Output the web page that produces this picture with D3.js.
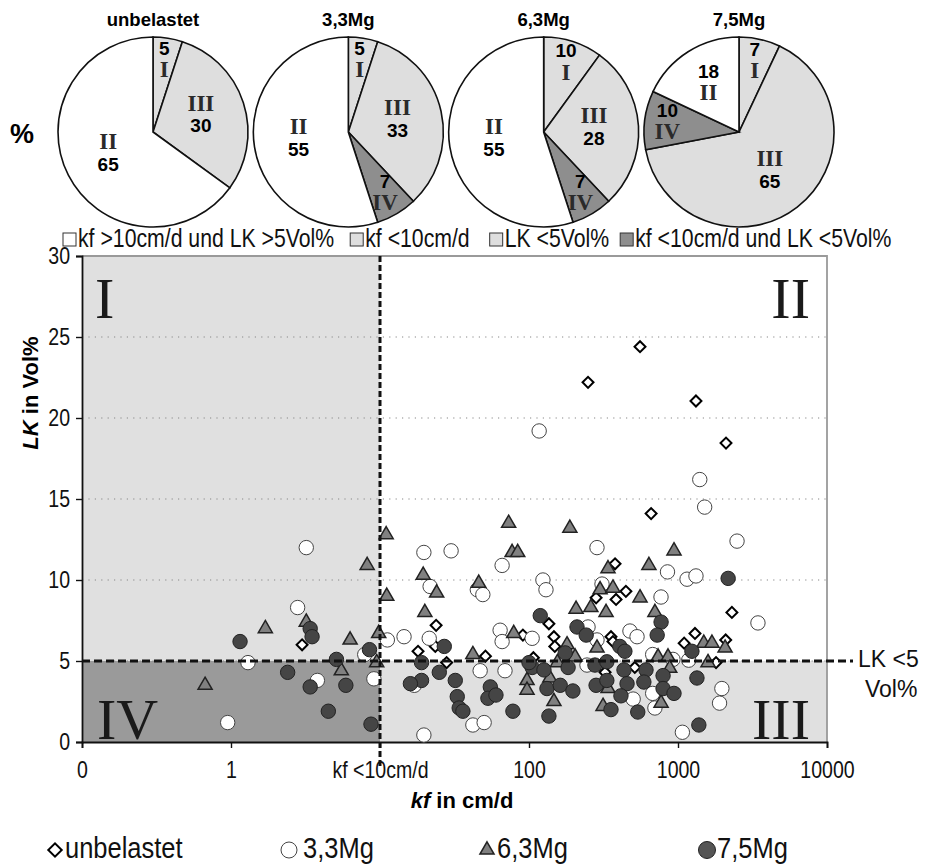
<!DOCTYPE html>
<html><head><meta charset="utf-8">
<script src="https://cdn.jsdelivr.net/npm/d3@7"></script>
<style>body{margin:0;background:#fff} svg{display:block}</style>
</head><body><svg id="c" width="928" height="867"></svg>
<script>
// ---------- DATA ----------
const pieNames = ["unbelastet", "3,3Mg", "6,3Mg", "7,5Mg"];
const pieZones = [["I","III","II"], ["I","III","IV","II"], ["I","III","IV","II"], ["I","III","IV","II"]];
const pieValues = [[5,30,65], [5,33,7,55], [10,28,7,55], [7,65,10,18]];
const zoneLegendLabels = ["kf >10cm/d und LK >5Vol%", "kf <10cm/d", "LK <5Vol%", "kf <10cm/d und LK <5Vol%"];
const zoneLegendKeys = ["II", "I", "III", "IV"];

const seriesNames = ["unbelastet", "3,3Mg", "6,3Mg", "7,5Mg"];
// [kf in cm/d, LK in Vol%]
const unbelastet = [[3.0,6.0],[23.8,7.2],[23.5,5.9],[18,5.6],[91,6.6],[51,5.3],[28,4.9],[660,14.1],[378,11.0],[447,9.3],[282,8.9],[384,8.8],[136,7.3],[147,6.5],[355,6.5],[149,5.9],[366,6.2],[1100,6.1],[513,4.6],[324,4.3],[1320,21.05],[2100,18.45],[2300,8.0],[1300,6.7],[2090,6.3],[1800,4.9],[556,24.4],[249,22.2],[107,5.2]];
const mg33 = [[3.2,12.0],[2.8,8.3],[11.2,6.3],[7.9,5.4],[1.3,4.9],[3.8,3.8],[9.1,3.9],[0.95,1.2],[19.7,11.7],[30,11.8],[66,10.9],[21.7,9.6],[45,9.4],[49,9.1],[14.5,6.5],[21.4,6.4],[64,6.9],[66,6.2],[105,6.4],[47,4.4],[69,4.4],[17,3.5],[42,1.05],[50,1.2],[19.7,0.43],[286,12.0],[850,10.5],[124,10.0],[130,9.4],[309,9.75],[769,8.95],[249,7.1],[476,6.85],[531,6.5],[286,6.3],[676,5.4],[925,5.1],[245,4.75],[500,2.65],[676,3.0],[700,2.1],[1070,0.6],[1400,16.2],[1510,14.5],[2490,12.4],[1150,10.05],[1320,10.25],[3440,7.35],[1180,5.05],[1970,3.3],[1900,2.4],[117,19.2]];
const mg63 = [[8.2,10.9],[11,12.8],[11.1,9.0],[3.2,7.4],[1.7,7.0],[6.3,6.3],[9.8,6.7],[9.5,4.9],[5.5,4.4],[0.67,3.5],[73,13.5],[77,11.7],[84,11.7],[19.5,10.3],[24,9.2],[46,9.8],[20,8.0],[79,6.7],[42,5.4],[97,3.8],[97,3.2],[188,13.2],[940,11.8],[339,10.7],[638,10.9],[300,9.4],[366,9.5],[556,8.9],[207,8.2],[260,8.3],[329,8.0],[700,8.0],[180,6.0],[286,5.8],[204,5.25],[735,5.25],[857,5.25],[138,3.95],[339,3.3],[147,2.5],[314,2.2],[770,2.4],[1490,6.1],[1690,6.1],[2070,5.8],[1590,4.9],[155,4.9],[880,4.55]];
const mg75 = [[3.4,7.0],[3.5,6.5],[1.15,6.2],[8.5,5.7],[5.1,5.1],[2.4,4.3],[3.4,3.4],[5.9,3.5],[4.5,1.9],[8.7,1.1],[27,5.9],[19,4.9],[25,4.3],[19,3.8],[16,3.6],[32,3.8],[33,2.8],[34,2.1],[36,1.9],[55,3.4],[53,2.7],[60,2.9],[78,1.9],[105,4.6],[100,4.9],[119,7.8],[770,7.4],[210,7.1],[242,6.6],[725,6.6],[407,5.9],[440,5.6],[175,5.5],[126,4.45],[183,4.6],[277,4.75],[333,4.95],[434,4.45],[610,4.45],[794,4.1],[132,3.3],[162,3.5],[197,3.15],[282,3.5],[333,3.8],[455,3.6],[590,3.7],[794,3.3],[940,3.0],[414,2.85],[355,2.0],[537,1.85],[136,1.6],[2170,10.1],[1240,5.6],[1340,3.95],[1380,1.05]];

const xTickValues = [0.1, 1, 10, 100, 1000, 10000];
const xTickLabels = ["0", "1", "kf <10cm/d", "100", "1000", "10000"];
const yTickValues = [0, 5, 10, 15, 20, 25, 30];
const kfLimit = 10, lkLimit = 5;

// ---------- STYLE ----------
const SANS = "'Liberation Sans',Arial,sans-serif";
const SERIF = "'Liberation Serif','Times New Roman',serif";
const NS = 0.85; // horizontal squeeze to mimic a narrow face
const zoneFill = {I:"#dedede", II:"#ffffff", III:"#dedede", IV:"#8e8e8e"};
const plotZoneFill = {I:"#e0e0e0", II:"#ffffff", III:"#e0e0e0", IV:"#9a9a9a"};

const svg = d3.select("#c");

function narrowText(parent, x, y, size, str, anchor) {
  return parent.append("text").attr("transform", `translate(${x},${y}) scale(${NS},1)`)
    .attr("text-anchor", anchor || "start").attr("dominant-baseline", "middle")
    .attr("font-family", SANS).attr("font-size", size).attr("fill", "#111").text(str);
}

// ---------- PIES ----------
const pieX = d3.scalePoint().domain(pieNames).range([153, 739]);
const pieY = 132, R = 95;
const pie = d3.pie().sort(null).value(d => d.v);
const arc = d3.arc().innerRadius(0).outerRadius(R);

svg.append("text").attr("x", 22).attr("y", 136).attr("text-anchor","middle")
  .attr("dominant-baseline","middle").attr("font-family", SANS).attr("font-weight","bold")
  .attr("font-size", 27).text("%");

pieNames.forEach((name, pi) => {
  const g = svg.append("g").attr("transform", `translate(${pieX(name)},${pieY})`);
  svg.append("text").attr("x", pieX(name)).attr("y", 21).attr("text-anchor","middle")
    .attr("dominant-baseline","middle").attr("font-family", SANS).attr("font-weight","bold")
    .attr("font-size", 18.5).text(name);
  const data = pieValues[pi].map((v, i) => ({v, z: pieZones[pi][i]}));
  const arcs = pie(data);
  g.selectAll("path").data(arcs).join("path").attr("d", arc)
    .attr("fill", d => zoneFill[d.data.z]).attr("stroke", "#111").attr("stroke-width", 1.6);
  arcs.forEach(d => {
    const a = (d.startAngle + d.endAngle) / 2;
    const small = d.data.v < 12;
    const f = small ? 0.76 : (d.data.v < 25 ? 0.6 : 0.53);
    const cx = Math.sin(a) * R * f, cy = -Math.cos(a) * R * f;
    const numFirst = small || a > 1.5 * Math.PI;
    const lines = numFirst ? ["n","z"] : ["z","n"];
    lines.forEach((t, li) => {
      const yy = cy + (li === 0 ? -11 : 11);
      const txt = g.append("text").attr("x", cx).attr("y", yy).attr("text-anchor","middle")
        .attr("dominant-baseline","middle").attr("font-weight","bold");
      if (t === "n") txt.attr("font-family", SANS).attr("font-size", 19).attr("fill","#000").text(d.data.v);
      else txt.attr("font-family", SERIF).attr("font-size", 23).attr("fill","#2a2a2a").text(d.data.z);
    });
  });
});

// zone legend row
{
  let lx = 63;
  const ly = 240;
  const gaps = [16, 20, 11];
  zoneLegendLabels.forEach((lab, i) => {
    svg.append("rect").attr("x", lx).attr("y", ly - 7).attr("width", 13).attr("height", 13)
      .attr("fill", zoneFill[zoneLegendKeys[i]]).attr("stroke", "#333").attr("stroke-width", 1);
    const t = narrowText(svg, lx + 15, ly, 25, lab);
    lx += 15 + t.node().getComputedTextLength() * NS + (gaps[i] || 0);
  });
}

// ---------- SCATTER ----------
const x = d3.scaleLog().domain([0.1, 10000]).range([82, 827]);
const y = d3.scaleLinear().domain([0, 30]).range([742, 256]);
const [x0, x1] = x.range(), [y0, y1] = y.range();

const zones = [
  {z:"I", xa:0.1, xb:kfLimit, ya:lkLimit, yb:30},
  {z:"II", xa:kfLimit, xb:10000, ya:lkLimit, yb:30},
  {z:"III", xa:kfLimit, xb:10000, ya:0, yb:lkLimit},
  {z:"IV", xa:0.1, xb:kfLimit, ya:0, yb:lkLimit}
];
svg.append("g").selectAll("rect").data(zones).join("rect")
  .attr("x", d => x(d.xa)).attr("y", d => y(d.yb))
  .attr("width", d => x(d.xb) - x(d.xa)).attr("height", d => y(d.ya) - y(d.yb))
  .attr("fill", d => plotZoneFill[d.z]);

svg.append("g").selectAll("line").data(yTickValues.filter(v => v > 0 && v < 30)).join("line")
  .attr("x1", x0).attr("x2", x1).attr("y1", d => y(d)).attr("y2", d => y(d))
  .attr("stroke", "#888").attr("stroke-width", 1.2).attr("stroke-dasharray", "1.2,5.2");

svg.append("path").attr("d", `M${x0},${y1}H${x1}V${y0}`).attr("fill","none")
  .attr("stroke","#9a9a9a").attr("stroke-width",1.8);

const romanStyle = s => s.attr("font-family", SERIF).attr("font-size", 58).attr("fill", "#1a1a1a");
romanStyle(svg.append("text").attr("x", x0 + 13).attr("y", y1 + 62).text("I"));
romanStyle(svg.append("text").attr("x", x1 - 17).attr("y", y1 + 62).attr("text-anchor","end").text("II"));
romanStyle(svg.append("text").attr("x", x1 - 17).attr("y", y0 - 3).attr("text-anchor","end").text("III"));
romanStyle(svg.append("text").attr("x", x0 + 15).attr("y", y0 - 3).text("IV"));

const yAxis = svg.append("g").attr("transform", `translate(${x0},0)`)
  .call(d3.axisLeft(y).tickValues(yTickValues).tickSize(6).tickFormat(d3.format("d")));
yAxis.select(".domain").attr("stroke","#111").attr("stroke-width",1.8);
yAxis.selectAll(".tick line").attr("stroke","#111").attr("stroke-width",1.4);
yAxis.selectAll("text").attr("font-family", SANS).attr("font-size", 23).attr("fill","#111")
  .attr("x", -12 / NS).attr("transform", `scale(${NS},1)`);

const xAxis = svg.append("g").attr("transform", `translate(0,${y0})`)
  .call(d3.axisBottom(x).tickValues(xTickValues).tickSize(6).tickFormat((d, i) => xTickLabels[i]));
xAxis.select(".domain").attr("stroke","#111").attr("stroke-width",1.8);
xAxis.selectAll(".tick line").attr("stroke","#111").attr("stroke-width",1.4);
xAxis.selectAll("text").attr("font-family", SANS).attr("font-size", 23).attr("fill","#111")
  .attr("y", 20).attr("transform", `scale(${NS},1)`);

// markers
const diamond = d3.symbol().type(d3.symbolSquare).size(60);
const tri = d3.symbol().type(d3.symbolTriangle).size(86);
const gm = svg.append("g");
gm.append("g").selectAll("path").data(unbelastet).join("path")
  .attr("d", diamond)
  .attr("transform", d => `translate(${x(d[0])},${y(d[1])}) rotate(45)`)
  .attr("fill", "#fff").attr("stroke", "#000").attr("stroke-width", 2);
gm.append("g").selectAll("circle").data(mg33).join("circle")
  .attr("cx", d => x(d[0])).attr("cy", d => y(d[1])).attr("r", 7.2)
  .attr("fill", "#fff").attr("stroke", "#444").attr("stroke-width", 1);
gm.append("g").selectAll("path").data(mg63).join("path")
  .attr("d", tri).attr("transform", d => `translate(${x(d[0])},${y(d[1])})`)
  .attr("fill", "#808080").attr("stroke", "#222").attr("stroke-width", 1.5);
gm.append("g").selectAll("circle").data(mg75).join("circle")
  .attr("cx", d => x(d[0])).attr("cy", d => y(d[1])).attr("r", 7.2)
  .attr("fill", "#454545").attr("stroke", "#222").attr("stroke-width", 1);

// threshold dashed lines
svg.append("line").attr("x1", x(kfLimit)).attr("x2", x(kfLimit)).attr("y1", y1).attr("y2", y0 + 26)
  .attr("stroke","#111").attr("stroke-width",3).attr("stroke-dasharray","6,3");
svg.append("line").attr("x1", x0).attr("x2", x1 + 26).attr("y1", y(lkLimit)).attr("y2", y(lkLimit))
  .attr("stroke","#111").attr("stroke-width",3).attr("stroke-dasharray","8,4");
svg.append("text").attr("x", x1 + 31).attr("y", y(lkLimit)).attr("dominant-baseline","middle")
  .attr("font-family", SANS).attr("font-size", 23).attr("fill","#111").text("LK <5");
svg.append("text").attr("x", x1 + 38).attr("y", y(lkLimit) + 30).attr("dominant-baseline","middle")
  .attr("font-family", SANS).attr("font-size", 23).attr("fill","#111").text("Vol%");

// axis titles
const yt = svg.append("text").attr("transform", `translate(32,393) rotate(-90)`)
  .attr("text-anchor","middle").attr("dominant-baseline","middle")
  .attr("font-family", SANS).attr("font-weight","bold").attr("font-size", 22);
yt.append("tspan").attr("font-style","italic").text("LK");
yt.append("tspan").text(" in Vol%");
const xt = svg.append("text").attr("x", 462).attr("y", 802)
  .attr("text-anchor","middle").attr("dominant-baseline","middle")
  .attr("font-family", SANS).attr("font-weight","bold").attr("font-size", 22);
xt.append("tspan").attr("font-style","italic").text("kf");
xt.append("tspan").text(" in cm/d");

// bottom legend
const legX = [55, 289, 487, 707];
const legY = 850;
seriesNames.forEach((name, i) => {
  const lx = legX[i];
  if (i === 0) svg.append("path").attr("d", d3.symbol().type(d3.symbolSquare).size(90))
    .attr("transform", `translate(${lx},${legY}) rotate(45)`)
    .attr("fill","#fff").attr("stroke","#000").attr("stroke-width",2);
  if (i === 1) svg.append("circle").attr("cx", lx).attr("cy", legY).attr("r", 8)
    .attr("fill","#fff").attr("stroke","#444");
  if (i === 2) svg.append("path").attr("d", tri).attr("transform", `translate(${lx},${legY})`)
    .attr("fill","#808080").attr("stroke","#222").attr("stroke-width",1.5);
  if (i === 3) svg.append("circle").attr("cx", lx).attr("cy", legY).attr("r", 8.5)
    .attr("fill","#555").attr("stroke","#222");
  narrowText(svg, lx + (i === 1 ? 14 : 10), legY, 30, name);
});
</script></body></html>
